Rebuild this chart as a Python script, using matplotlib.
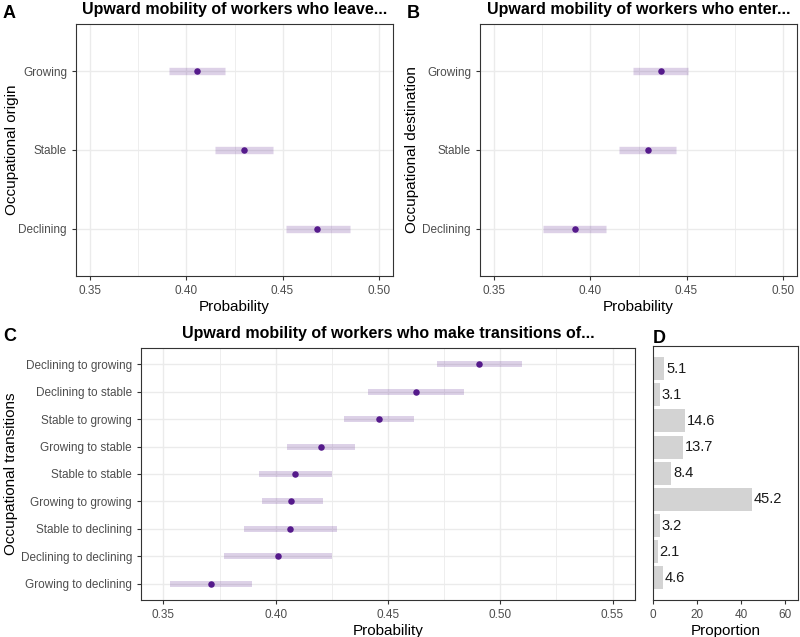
import matplotlib
matplotlib.use("Agg")
from matplotlib import pyplot as plt
from matplotlib.ticker import MultipleLocator

plt.rcParams['font.family'] = ['Liberation Sans', 'DejaVu Sans']

# panel A: leaving origin
origin_cats = ['Declining', 'Stable', 'Growing']
origin_est = [0.468, 0.430, 0.4055]
origin_lo = [0.452, 0.415, 0.391]
origin_hi = [0.485, 0.445, 0.420]

# panel B: entering destination
dest_cats = ['Declining', 'Stable', 'Growing']
dest_est = [0.392, 0.430, 0.4365]
dest_lo = [0.3755, 0.415, 0.422]
dest_hi = [0.408, 0.4445, 0.451]

# panel C: transitions (bottom to top)
trans_cats = ['Growing to declining', 'Declining to declining', 'Stable to declining',
              'Growing to growing', 'Stable to stable', 'Growing to stable',
              'Stable to growing', 'Declining to stable', 'Declining to growing']
trans_est = [0.371, 0.401, 0.4065, 0.407, 0.4085, 0.420, 0.446, 0.4625, 0.4905]
trans_lo = [0.353, 0.377, 0.386, 0.394, 0.3925, 0.405, 0.4305, 0.441, 0.472]
trans_hi = [0.3895, 0.425, 0.4275, 0.421, 0.425, 0.4355, 0.4615, 0.484, 0.5095]

# panel D: proportions
trans_prop = [4.6, 2.1, 3.2, 45.2, 8.4, 13.7, 14.6, 3.1, 5.1]

PT = '#551A8B'
GRID = '#EBEBEB'
TICKC = '#4D4D4D'
BORDER = '#333333'


def style(ax):
    for s in ax.spines.values():
        s.set_color(BORDER)
        s.set_linewidth(0.8)
    ax.tick_params(colors=BORDER, labelcolor=TICKC, labelsize=8.5, length=3, width=0.8)


def dotplot(ax, cats, est, lo, hi, xlim, title, ylabel, ylab_x, band):
    y = range(len(cats))
    ax.set_axisbelow(True)
    ax.xaxis.set_major_locator(MultipleLocator(0.05))
    ax.xaxis.set_minor_locator(MultipleLocator(0.025))
    ax.grid(which='major', color=GRID, linewidth=1.0)
    ax.grid(which='minor', axis='x', color=GRID, linewidth=0.6)
    ax.tick_params(which='minor', length=0)
    ax.hlines(y, lo, hi, color=PT, alpha=0.2, linewidth=band)
    ax.scatter(est, y, color=PT, s=22, zorder=3, linewidths=0)
    ax.set_yticks(list(y))
    ax.set_yticklabels(cats)
    ax.set_ylim(-0.6, len(cats) - 0.4)
    ax.set_xlim(*xlim)
    ax.xaxis.set_major_formatter(plt.FuncFormatter(lambda v, p: f'{v:.2f}'))
    ax.set_xlabel('Probability', fontsize=11, labelpad=2)
    ax.set_ylabel(ylabel, fontsize=11)
    ax.yaxis.set_label_coords(ylab_x, 0.5)
    ax.set_title(title, fontsize=11.5, fontweight='bold', pad=7)
    style(ax)


fig = plt.figure(figsize=(8, 6.37), dpi=100)
W, H = 800, 637


def add_ax(l, t, r, b):
    return fig.add_axes([l / W, 1 - b / H, (r - l) / W, (b - t) / H])


axA = add_ax(76, 24, 393, 276)
axB = add_ax(480, 24, 797, 276)
axC = add_ax(141, 348, 635, 600)
axD = add_ax(653, 346, 798, 600)

dotplot(axA, origin_cats, origin_est, origin_lo, origin_hi, (0.3425, 0.5075),
        'Upward mobility of workers who leave...', 'Occupational origin', (19 - 76) / 317, 5.3)
dotplot(axB, dest_cats, dest_est, dest_lo, dest_hi, (0.3425, 0.5075),
        'Upward mobility of workers who enter...', 'Occupational destination', (419 - 480) / 317, 5.3)
dotplot(axC, trans_cats, trans_est, trans_lo, trans_hi, (0.34, 0.56),
        'Upward mobility of workers who make transitions of...', 'Occupational transitions',
        (18 - 141) / 494, 4.3)

yD = range(len(trans_prop))
axD.barh(list(yD), trans_prop, height=0.88, color='#D3D3D3')
for yi, v in zip(yD, trans_prop):
    axD.text(v + 0.8, yi, f'{v:.1f}', va='center', ha='left', fontsize=10.5, color='#1A1A1A')
axD.set_xlim(0, 66)
axD.set_ylim(-0.85, len(trans_prop) - 0.13)
axD.set_xticks([0, 20, 40, 60])
axD.set_yticks([])
axD.set_xlabel('Proportion', fontsize=11, labelpad=2)
style(axD)

for x, y, lab in [(3, 5, 'A'), (407, 5, 'B'), (3, 328, 'C'), (653, 330, 'D')]:
    fig.text(x / W, 1 - y / H, lab, fontsize=13, fontweight='bold', va='top', ha='left')

fig.savefig('out.png', dpi=100)
